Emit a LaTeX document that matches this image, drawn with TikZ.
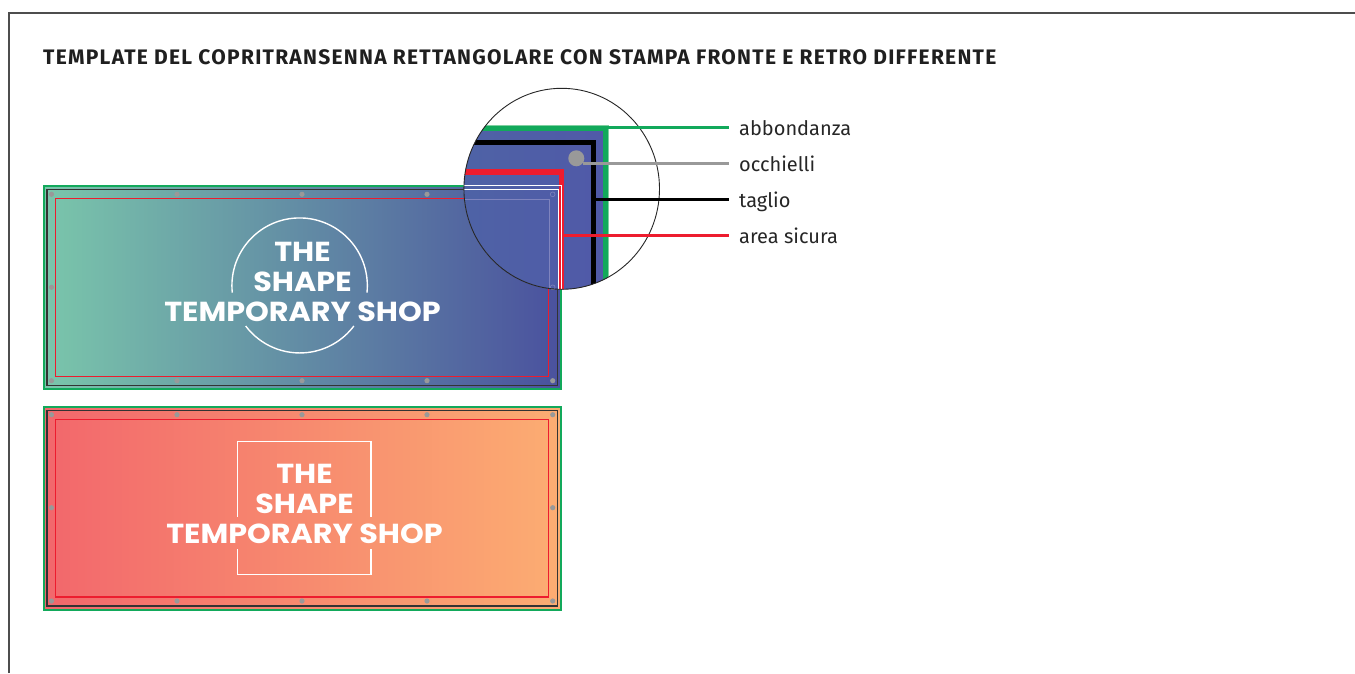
\documentclass[tikz,border=0pt]{standalone}
\usepackage{fontspec}
\setmainfont{Fira Sans}
\newfontfamily\titlefont[LetterSpace=6.0]{Fira Sans}
\newfontfamily\logofont[FakeStretch=1.1]{Poppins}
\usetikzlibrary{positioning}
\definecolor{abbgreen}{HTML}{12A95B}
\definecolor{palegreen}{HTML}{7FD0A0}
\definecolor{sicred}{HTML}{ED1C2E}
\definecolor{eyegray}{HTML}{999999}
\definecolor{lensblue}{HTML}{5059A8}
\definecolor{lensleft}{HTML}{4E64A5}
\definecolor{lensline}{HTML}{7F84BE}
\definecolor{framegray}{HTML}{4D4D4D}
\definecolor{coolleft}{HTML}{7AC6AB}
\definecolor{coolright}{HTML}{4A519E}
\definecolor{warmleft}{HTML}{F2676C}
\definecolor{warmright}{HTML}{FCAD72}
\begin{document}
\begin{tikzpicture}[
  x=1pt,y=-1pt,
  banner/.style={minimum width=517pt,minimum height=203pt,inner sep=0,outer sep=0,anchor=north west,draw=abbgreen,line width=1.7pt},
  cool/.style={left color=coolleft,right color=coolright},
  warm/.style={left color=warmleft,right color=warmright},
  taglio/.style={draw=black!80,line width=1.5pt},
  sicura/.style={draw=sicred,line width=1.4pt},
  eyelet/.style={circle,fill=eyegray,minimum size=5.2pt,inner sep=0},
  logo/.style={font=\logofont\bfseries\fontsize{27.5}{29}\selectfont,text=white,align=center,inner sep=0},
  logoline/.style={draw=white,line width=1.4pt},
  tag/.style={anchor=west,inner xsep=10pt,inner ysep=0,text height=17.3pt,text depth=1pt,text=black!85,font=\fontsize{20}{22}\selectfont},
  lead/.style={line width=2.8pt},
  lensedge/.style={x radius=97.8,y radius=100.5}
  ]
  \useasboundingbox (0,0) rectangle (1355,673);
  % frame
  \coordinate (fa) at (9,673);
  \coordinate (fb) at (9,13);
  \coordinate (fc) at (1355,13);
  \draw[framegray,line width=1.4pt] (fa) -- (fb) -- (fc);
  \node[anchor=base west,inner sep=0,text=black!88,font=\titlefont\bfseries\fontsize{21}{24}\selectfont] (title) at (43,64) {TEMPLATE DEL COPRITRANSENNA RETTANGOLARE CON STAMPA FRONTE E RETRO DIFFERENTE};
  % banners
  \node[banner,cool] (front) at (43.8,185.8) {};
  \node[banner,warm] (back) at (43.8,407) {};
  \draw[taglio] (47,189.7) rectangle (557.7,385.5);
  \draw[taglio] (47,410.7) rectangle (557.7,606);
  \draw[sicura] (55.7,198.7) rectangle (548.7,376.5);
  \draw[sicura] (55.7,419.5) rectangle (548.7,597);
  % eyelets
  \foreach \x in {51.5,177,302,427,552.7}{
    \node[eyelet] (ft\x) at (\x,194.3) {};
    \node[eyelet] (fb\x) at (\x,380.7) {};
    \node[eyelet] (bt\x) at (\x,414.7) {};
    \node[eyelet] (bb\x) at (\x,601) {};
  }
  \foreach \x in {51.5,552.7}{
    \node[eyelet] (fm\x) at (\x,287.3) {};
    \node[eyelet] (bm\x) at (\x,507.7) {};
  }
  % logos
  \draw[logoline] (232.3,292.7) arc[start angle=186,end angle=-6,x radius=67.7,y radius=-67.7];
  \draw[logoline] (245.7,326) arc[start angle=217,end angle=323,x radius=67.7,y radius=-67.7];
  \node[logo] (frontlogo) at (302.5,281.5) {THE\\[1pt]SHAPE\\[1pt]TEMPORARY SHOP};
  \draw[logoline] (237.7,516.7) -- (237.7,441.7) -- (371,441.7) -- (371,516.7);
  \draw[logoline] (237.7,549) -- (237.7,574.7) -- (371,574.7) -- (371,549);
  \node[logo] (backlogo) at (304.5,504) {THE\\[1pt]SHAPE\\[1pt]TEMPORARY SHOP};
  % lens
  \coordinate (lens) at (561.7,188.8);
  \fill[white] (lens) ellipse[lensedge];
  \begin{scope}
    \clip (lens) ellipse[lensedge];
    \shade[left color=lensleft,right color=lensblue] (440,126) rectangle (607.5,300);
    \draw[palegreen,line width=1pt] (440,125.7) -- (608,125.7) -- (608,300);
    \draw[abbgreen,line width=5pt] (440,128.2) -- (605,128.2) -- (605,300);
    \draw[black,line width=5pt] (440,142) -- (593.2,142) -- (593.2,300);
    \draw[sicred,line width=5.4pt] (440,172) -- (561.5,172) -- (561.5,300);
    \draw[white,line width=1pt] (440,185.3) -- (561.8,185.3) -- (561.8,300);
    \draw[white,line width=1pt] (440,189.3) -- (558,189.3) -- (558,300);
    \draw[lensline,line width=.8pt] (440,199) -- (549,199) -- (549,300);
    \draw[lensline,line width=.6pt] (552.7,194.3) circle (2.4);
    \draw[lensline,line width=.6pt] (552.7,287.3) circle (2.4);
    \node[circle,fill=eyegray,minimum size=16pt,inner sep=0] (hole) at (576.3,158.3) {};
  \end{scope}
  \draw[black!85,line width=.9pt] (lens) ellipse[lensedge];
  % leaders
  \node[tag] (abb) at (729,127.7) {abbondanza};
  \node[tag] (occ) at (729,163.7) {occhielli};
  \node[tag] (tag3) at (729,199.7) {taglio};
  \node[tag] (are) at (729,235.7) {area sicura};
  \coordinate (abbtip) at (607,127.7);
  \coordinate (occtip) at (583,163.7);
  \coordinate (tagtip) at (595,199.7);
  \coordinate (aretip) at (564,235.7);
  \draw[lead,abbgreen] (abbtip) -- (abb.west);
  \draw[lead,eyegray] (occtip) -- (occ.west);
  \draw[lead,black] (tagtip) -- (tag3.west);
  \draw[lead,sicred] (aretip) -- (are.west);
\end{tikzpicture}
\end{document}
